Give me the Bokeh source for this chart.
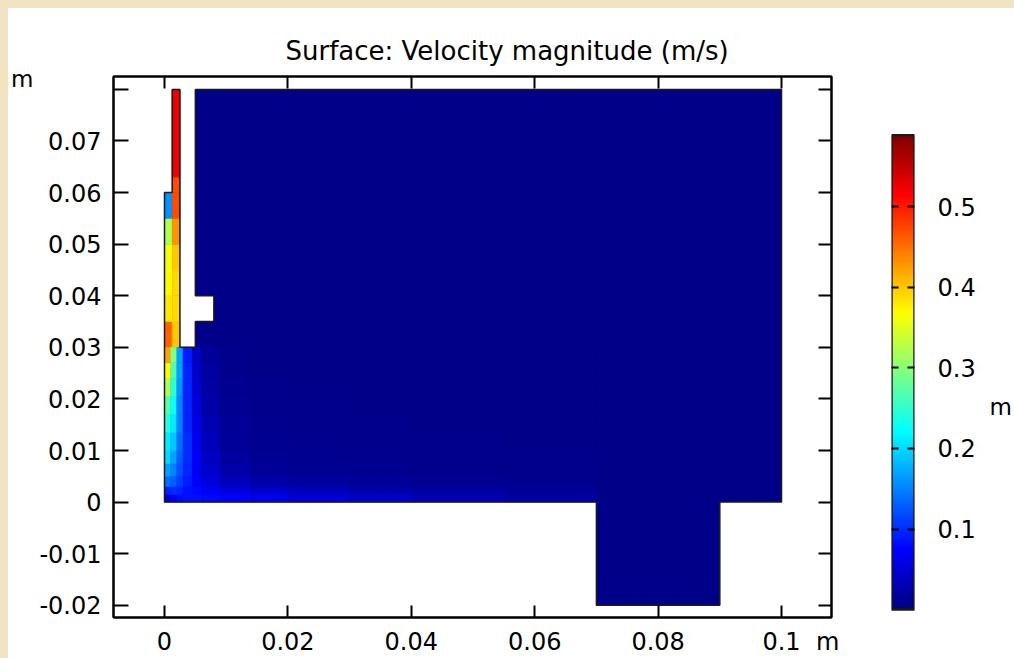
import numpy as np
from bokeh.plotting import figure
from bokeh.models import (Range1d, LinearAxis, FixedTicker, LinearColorMapper,
                          ColumnDataSource)
from bokeh.layouts import row
from bokeh.transform import transform
from bokeh.embed import file_html
from bokeh.resources import INLINE

# ---------------- data ----------------
TITLE = "Surface: Velocity magnitude (m/s)"
x_ticks = [0, 0.02, 0.04, 0.06, 0.08, 0.1]
x_tick_labels = ["0", "0.02", "0.04", "0.06", "0.08", "0.1"]
y_ticks = [-0.02, -0.01, 0, 0.01, 0.02, 0.03, 0.04, 0.05, 0.06, 0.07, 0.08]
y_tick_labels = ["-0.02", "-0.01", "0", "0.01", "0.02", "0.03", "0.04",
                 "0.05", "0.06", "0.07", ""]
cbar_ticks = [0.1, 0.2, 0.3, 0.4, 0.5]
cbar_tick_labels = ["0.1", "0.2", "0.3", "0.4", "0.5"]
unit_label = "m"
x_unit_pos = 0.1075      # where the x unit sits along the x axis
y_unit_pos = 0.0821      # where the y unit sits along the y axis
cbar_unit_pos = 0.252    # where the colour-bar unit sits
v_min, v_max = 0.0, 0.589

# fluid domain boundary (m)
domain_x = [0, 0.07, 0.07, 0.09, 0.09, 0.1, 0.1, 0.005, 0.005, 0.008, 0.008,
            0.005, 0.005, 0.0025, 0.0025, 0.00125, 0.00125, 0]
domain_y = [0, 0, -0.02, -0.02, 0, 0, 0.08, 0.08, 0.04, 0.04, 0.035,
            0.035, 0.03, 0.03, 0.08, 0.08, 0.06, 0.06]
background_speed = 0.005

# inlet tube
inlet_x_edges = [0.00125, 0.0025]
inlet_y_edges = [0.06, 0.063, 0.08]
inlet_speed = [[0.47],
               [0.52]]

# channel between wall and baffle
chan_x_edges = [0, 0.00125, 0.0025]
chan_y_edges = [0.03, 0.035, 0.04, 0.045, 0.05, 0.055, 0.06]
chan_speed = [[0.46, 0.40],
              [0.38, 0.39],
              [0.37, 0.39],
              [0.36, 0.40],
              [0.32, 0.43],
              [0.16, 0.47]]

# jet along the wall and the floor
jet_x_edges = [0, 0.001, 0.002, 0.003, 0.0045, 0.006, 0.009, 0.014, 0.02,
               0.03, 0.04, 0.055, 0.07]
jet_y_edges = [0, 0.0015, 0.003, 0.005, 0.0075, 0.01, 0.0135, 0.017, 0.0205,
               0.024, 0.027, 0.03]
jet_speed = [
    [0.05, 0.065, 0.08, 0.085, 0.085, 0.08, 0.075, 0.065, 0.055, 0.045, 0.033, 0.025],
    [0.09, 0.10, 0.095, 0.085, 0.08, 0.07, 0.055, 0.045, 0.035, 0.027, 0.02, 0.015],
    [0.14, 0.13, 0.11, 0.09, 0.075, 0.055, 0.035, 0.025, 0.02, 0.016, 0.012, 0.01],
    [0.17, 0.15, 0.12, 0.095, 0.07, 0.045, 0.025, 0.016, 0.013, 0.011, 0.009, 0.008],
    [0.20, 0.17, 0.13, 0.10, 0.07, 0.04, 0.02, 0.012, 0.01, 0.009, 0.008, 0.007],
    [0.21, 0.19, 0.14, 0.10, 0.065, 0.035, 0.016, 0.01, 0.009, 0.008, 0.007, 0.006],
    [0.24, 0.21, 0.15, 0.095, 0.06, 0.03, 0.014, 0.009, 0.008, 0.007, 0.006, 0.006],
    [0.27, 0.23, 0.15, 0.095, 0.055, 0.025, 0.012, 0.008, 0.007, 0.006, 0.006, 0.006],
    [0.32, 0.25, 0.16, 0.095, 0.05, 0.022, 0.01, 0.007, 0.006, 0.006, 0.006, 0.006],
    [0.37, 0.27, 0.17, 0.095, 0.045, 0.02, 0.008, 0.006, 0.006, 0.006, 0.006, 0.006],
    [0.42, 0.30, 0.17, 0.09, 0.04, 0.015, 0.008, 0.006, 0.006, 0.006, 0.006, 0.006],
]


# ---------------- colour map (jet) ----------------
def _jet(t):
    def c(v):
        return int(round(255 * min(max(v, 0.0), 1.0)))
    return "#%02x%02x%02x" % (c(1.5 - abs(4 * t - 3)), c(1.5 - abs(4 * t - 2)),
                              c(1.5 - abs(4 * t - 1)))


palette = [_jet(i / 255) for i in range(256)]
mapper = LinearColorMapper(palette=palette, low=v_min, high=v_max)


def cells(xe, ye, vals):
    l, r, b, t, v = [], [], [], [], []
    for j in range(len(ye) - 1):
        for i in range(len(xe) - 1):
            l.append(xe[i]); r.append(xe[i + 1])
            b.append(ye[j]); t.append(ye[j + 1])
            v.append(vals[j][i])
    return l, r, b, t, v


L, R, B, T, V = [], [], [], [], []
for xe, ye, vals in [(inlet_x_edges, inlet_y_edges, inlet_speed),
                     (chan_x_edges, chan_y_edges, chan_speed),
                     (jet_x_edges, jet_y_edges, jet_speed)]:
    l, r, b, t, v = cells(xe, ye, vals)
    L += l; R += r; B += b; T += t; V += v
cell_src = ColumnDataSource(dict(left=L, right=R, bottom=B, top=T, v=V))

FONT = "DejaVu Sans"
TICK_FS = "24px"


def style_axis(ax, ticks, labels, tick_in, show_labels=True, standoff=12,
               font_size=TICK_FS, line=True):
    ax.ticker = FixedTicker(ticks=ticks)
    ax.major_label_overrides = {t: s for t, s in zip(ticks, labels)}
    ax.minor_tick_line_color = None
    ax.major_tick_in = tick_in
    ax.major_tick_out = 0
    ax.major_tick_line_width = 2
    ax.major_tick_line_color = "black" if tick_in > 0 else None
    ax.axis_line_color = "black" if line else None
    ax.axis_line_width = 2
    ax.major_label_text_font = FONT
    if show_labels:
        ax.major_label_text_color = "black"
        ax.major_label_text_font_size = font_size
        ax.major_label_standoff = standoff
    else:
        ax.major_label_text_color = None
        ax.major_label_text_font_size = "1px"
        ax.major_label_standoff = 0


# ---------------- main figure ----------------
p = figure(width=852, height=650,
           x_range=Range1d(-0.008266, 0.1081), y_range=Range1d(-0.02237, 0.0825),
           output_backend="svg", toolbar_location=None,
           min_border_left=105, min_border_right=29, min_border_top=68,
           min_border_bottom=38)
p.grid.visible = False
p.outline_line_color = "black"
p.outline_line_width = 2
p.background_fill_color = "white"
p.border_fill_color = "white"

p.title.text = TITLE
p.title.align = "left"
p.title.offset = 172
p.title.standoff = 22
p.title.text_font = FONT
p.title.text_font_size = "26px"
p.title.text_font_style = "normal"
p.title.text_color = "black"

dom_src = ColumnDataSource(dict(xs=[domain_x], ys=[domain_y], v=[background_speed]))
p.patches("xs", "ys", source=dom_src, fill_color=transform("v", mapper),
          line_color=None)
p.quad(left="left", right="right", bottom="bottom", top="top", source=cell_src,
       fill_color=transform("v", mapper), line_color=transform("v", mapper),
       line_width=0.6)
p.patches("xs", "ys", source=dom_src, fill_color=None, line_color="#1a1a1a",
          line_width=1.5)

# bottom: ticks on the frame, labels (with unit) on a second axis
style_axis(p.xaxis[0], x_ticks, x_tick_labels, 12, False)
x_lab_ax = LinearAxis()
style_axis(x_lab_ax, x_ticks + [x_unit_pos], x_tick_labels + [unit_label], 0,
           True, 10, line=False)
p.add_layout(x_lab_ax, "below")

# left: ticks + labels, unit on an outer axis
style_axis(p.yaxis[0], y_ticks, y_tick_labels, 15, True, 12)
y_unit_ax = LinearAxis()
style_axis(y_unit_ax, [y_unit_pos], [unit_label], 0, True, 3, font_size="23px",
           line=False)
p.add_layout(y_unit_ax, "left")

top_ax = LinearAxis()
style_axis(top_ax, x_ticks, x_tick_labels, 12, False)
p.add_layout(top_ax, "above")
right_ax = LinearAxis()
style_axis(right_ax, y_ticks, y_tick_labels, 13, False)
p.add_layout(right_ax, "right")

# ---------------- colour bar figure ----------------
px_per_unit = 477 / (v_max - v_min)
p2 = figure(width=154, height=650, x_range=Range1d(0, 1),
            y_range=Range1d(v_min - 8 / px_per_unit, v_max + 59 / px_per_unit),
            output_backend="svg", toolbar_location=None,
            min_border_left=31, min_border_right=94,
            min_border_top=68, min_border_bottom=38,
            x_axis_location=None, y_axis_location="right")
p2.grid.visible = False
p2.outline_line_color = None
p2.border_fill_color = "white"
p2.background_fill_color = "white"
grad = np.linspace(v_min, v_max, 256).reshape(256, 1)
p2.image(image=[grad], x=0, y=v_min, dw=1, dh=v_max - v_min, color_mapper=mapper)
p2.quad(left=[0], right=[1], bottom=[v_min], top=[v_max], fill_color=None,
        line_color="#1a1a1a", line_width=2.5)
style_axis(p2.yaxis[0], cbar_ticks, cbar_tick_labels, 7, True, 23, line=False)
cb_unit_ax = LinearAxis()
style_axis(cb_unit_ax, [cbar_unit_pos], [unit_label], 0, True, 11,
           font_size="23px", line=False)
p2.add_layout(cb_unit_ax, "right")
cb_left = LinearAxis()
style_axis(cb_left, cbar_ticks, cbar_tick_labels, 7, False, line=False)
p2.add_layout(cb_left, "left")

layout = row(p, p2, spacing=0, styles={"background-color": "white"})
html = file_html(layout, INLINE)
css = ("<style>html, body {margin:0 !important; padding:0 !important; "
       "background:#f2e3c3 !important; overflow:hidden !important;} "
       "body {padding:8px 0 0 8px !important;}</style>\n</head>")
html = html.replace("</head>", css, 1)
open("out.html", "w").write(html)
